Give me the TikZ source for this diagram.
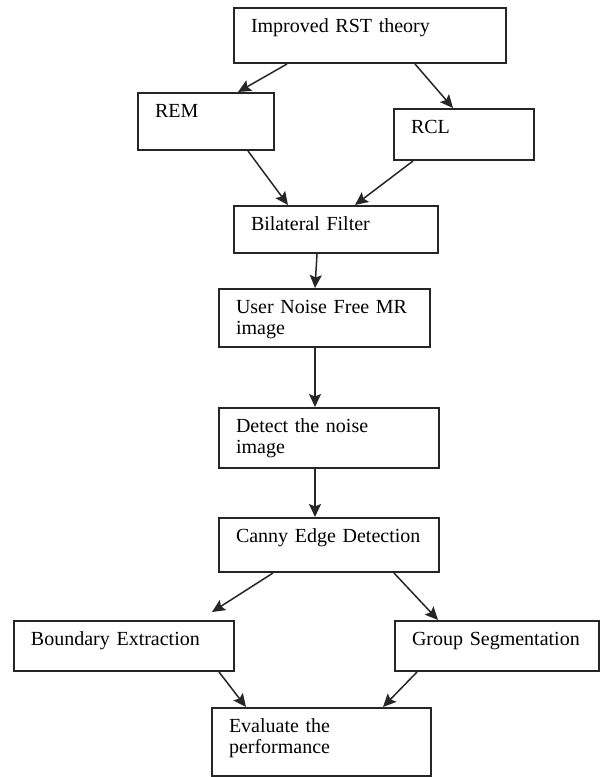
\documentclass[tikz,border=0pt]{standalone}
\usepackage{fontspec}
\setmainfont{Liberation Serif}
\usetikzlibrary{arrows.meta,calc}

\begin{document}
\begin{tikzpicture}[
  x=0.5pt, y=-0.5pt,
  font=\fontsize{10}{10.5}\selectfont,
  stage/.style={draw=black!85, line width=1pt, anchor=north west, align=left,
                inner xsep=8.5pt, inner ysep=0pt, text height=12pt},
  flow/.style={line width=0.75pt, black!85, -{Stealth[length=6.5pt, width=6pt, inset=1.2pt]}},
]
  \useasboundingbox (0,0) rectangle (600,777);

  % theory and its two branches
  \node[stage, text width=119pt, text depth=15.5pt] (rst) at (233,7) {Improved RST theory};
  \node[stage, text width=51pt, text depth=16.5pt] (rem) at (137,92) {REM};
  \node[stage, text width=53pt, text depth=13.5pt] (rcl) at (393,108) {RCL};
  \draw[flow] ($(rst.south west)+(54,0)$) -- ($(rem.north west)+(101,0)$);
  \draw[flow] ($(rst.south west)+(182,0)$) -- ($(rcl.north west)+(60,0)$);

  % filtering chain
  \node[stage, text width=85pt, text depth=11.5pt] (bil) at (233,205) {Bilateral Filter};
  \node[stage, text width=88.5pt, text depth=17pt] (usr) at (218,288) {User Noise Free MR\\image};
  \node[stage, text width=93pt, text depth=18pt] (det) at (218,407) {Detect the noise\\image};
  \node[stage, text width=93pt, text depth=15pt] (can) at (218,517) {Canny Edge Detection};
  \draw[flow] ($(rem.south west)+(111,0)$) -- ($(bil.north west)+(55,0)$);
  \draw[flow] ($(rcl.south west)+(20,0)$) -- ($(bil.north west)+(122,0)$);
  \draw[flow] ($(bil.south west)+(84,0)$) -- ($(usr.north west)+(97,0)$);
  \draw[flow] ($(usr.south west)+(97,0)$) -- ($(det.north west)+(97,0)$);
  \draw[flow] ($(det.south west)+(97,0)$) -- ($(can.north west)+(97,0)$);

  % the two outputs and the evaluation
  \node[stage, text width=93pt, text depth=13pt] (bnd) at (13,620) {Boundary Extraction};
  \node[stage, text width=85pt, text depth=13pt] (grp) at (394,620) {Group Segmentation};
  \node[stage, text width=92.5pt, text depth=22pt] (evl) at (211,707) {Evaluate the\\performance};
  \draw[flow] ($(can.south west)+(55,0)$) -- ($(bnd.north west)+(199,-8)$);
  \draw[flow] ($(can.south west)+(176,0)$) -- ($(grp.north west)+(44,0)$);
  \draw[flow] ($(bnd.south west)+(206,0)$) -- ($(evl.north west)+(35,0)$);
  \draw[flow] ($(grp.south west)+(23,0)$) -- ($(evl.north west)+(172,0)$);
\end{tikzpicture}
\end{document}
